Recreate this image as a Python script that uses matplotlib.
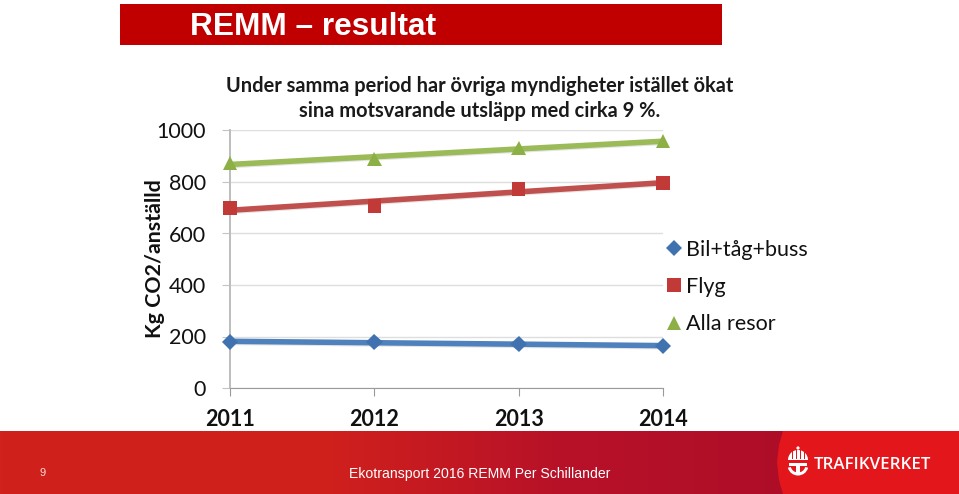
#!/usr/bin/env python3
"""REMM resultat slide: kg CO2 per employee 2011-2014."""
import matplotlib
matplotlib.use("Agg")
import matplotlib.patheffects as pe
import matplotlib.pyplot as plt
import numpy as np
from matplotlib.colors import LinearSegmentedColormap
from matplotlib.lines import Line2D
from matplotlib.patches import Circle, Polygon, Rectangle, Wedge

years = ["2011", "2012", "2013", "2014"]
bil_tag_buss = [179, 179, 171, 163]
flyg = [699, 707, 773, 796]
alla_resor = [873, 889, 932, 959]
y_ticks = [0, 200, 400, 600, 800, 1000]

W, H = 959, 494
BODY = ["Lato", "DejaVu Sans"]
HEAD = "Liberation Sans"
LOGO_RED = "#e3161b"

plt.rcParams["font.family"] = BODY

fig = plt.figure(figsize=(W / 100, H / 100), dpi=100, facecolor="white")

# pixel-coordinate layer for the slide furniture
bg = fig.add_axes([0, 0, 1, 1])

band = LinearSegmentedColormap.from_list(
    "band", [(0, "#d0211c"), (0.42, "#cf201d"), (0.70, "#b81228"), (1, "#ae0d28")])
bg.imshow(np.linspace(0, 1, 256)[None, :], cmap=band, extent=(0, 790, 494, 431), aspect="auto")
bg.set_xlim(0, W)
bg.set_ylim(H, 0)
bg.axis("off")

bg.add_patch(Rectangle((120, 4), 602, 41, color="#c00000", lw=0))
bg.text(190, 27, "REMM – resultat", color="white", family=HEAD, weight="bold",
        fontsize=22.8, va="center", ha="left")

edge = [(783, 431), (779, 445), (777, 462), (779, 480), (783, 494), (W, 494), (W, 431)]
bg.add_patch(Polygon(edge, color=LOGO_RED, lw=0))
bg.text(43, 473, "9", color="#f6dcd8", family=HEAD, fontsize=8, ha="center", va="center")
bg.text(349, 474, "Ekotransport 2016 REMM Per Schillander", color="white", family=HEAD,
        fontsize=10.1, ha="left", va="center")

# logo: crown over a T-shaped anchor
bg.add_patch(Wedge((798, 460), 10, 180, 360, color="white", lw=0))
for rib in (792, 796, 800, 804):
    bg.add_patch(Rectangle((rib - 0.4, 449), 0.9, 10, color=LOGO_RED, lw=0))
bg.add_patch(Circle((798, 448), 1.6, color="white", lw=0))
bg.add_patch(Rectangle((789, 463), 18, 3, color="white", lw=0))
bg.add_patch(Rectangle((796, 463), 4, 12, color="white", lw=0))
bg.add_patch(Wedge((798, 465), 10.5, 15, 165, width=3, color="white", lw=0))
bg.text(814, 465, "TRAFIKVERKET", color="white", family="Open Sans", weight="semibold",
        fontsize=12.2, ha="left", va="center")

ax = fig.add_axes([230 / W, (H - 388) / H, (663 - 230) / W, (388 - 130.5) / H])
ax.set_facecolor("none")
x = np.arange(len(years))
ax.set_xlim(x[0], x[-1])
ax.set_ylim(0, 1000)

ax.set_yticks(y_ticks)
ax.set_xticks(x, labels=years)
ax.grid(axis="y", color="#dedede", linewidth=1)
ax.set_axisbelow(True)
for side in ("top", "right"):
    ax.spines[side].set_visible(False)
ax.spines["left"].set_color("#bdbdbd")
ax.spines["left"].set_linewidth(1.4)
ax.spines["bottom"].set_color("#9a9a9a")
ax.spines["bottom"].set_linewidth(0.8)
ax.tick_params(axis="y", labelsize=15.5, length=6, width=0.8, color="#c4c4c4", pad=11.5,
               labelcolor="#111111")
ax.tick_params(axis="x", labelsize=15.5, length=6, width=0.8, color="#9a9a9a", pad=9,
               labelcolor="#111111")
for lab in ax.get_xticklabels():
    lab.set_fontweight("bold")

shadow = [pe.SimpleLineShadow(offset=(0.3, -0.8), shadow_color="#999999", alpha=0.25),
          pe.Normal()]
series = [
    (bil_tag_buss, "#4f81bd", "D", 8.5, "#3f72af", "Bil+tåg+buss"),
    (flyg, "#c0504d", "s", 9.5, "#c23a38", "Flyg"),
    (alla_resor, "#9bbb59", "^", 10.5, "#8cb045", "Alla resor"),
]
handles = []
for vals, line_col, marker, size, mark_col, name in series:
    # the straight lines are linear trends through the yearly points
    slope, icpt = np.polyfit(x, vals, 1)
    ax.plot(x, slope * x + icpt, color=line_col, lw=4, clip_on=False, zorder=3,
            solid_capstyle="butt", path_effects=shadow)
    ax.plot(x, vals, ls="none", marker=marker, ms=size, color=mark_col, mew=0,
            clip_on=False, zorder=4, path_effects=shadow)
    handles.append(Line2D([], [], ls="none", marker=marker, ms=size, color=mark_col,
                          mew=0, label=name))

leg = fig.legend(handles=handles, loc="center left", bbox_to_anchor=(662 / W, (H - 287) / H),
                 frameon=False, fontsize=15.5, labelspacing=0.80, handletextpad=0.0,
                 handlelength=1.1, borderpad=0, borderaxespad=0)
for t in leg.get_texts():
    t.set_color("#111111")

fig.text(155 / W, (H - 259) / H, "Kg CO2/anställd", rotation=90,
         fontsize=15.4, weight="bold", ha="center", va="center", color="#111111")
fig.text(480 / W, (H - 98.5) / H, "Under samma period har övriga myndigheter istället ökat\n"
         "sina motsvarande utsläpp med cirka 9 %.", fontsize=14.4, weight="bold",
         ha="center", va="center", linespacing=1.32, color="#1a1a1a")

fig.savefig("out.png", dpi=100, facecolor="white")
